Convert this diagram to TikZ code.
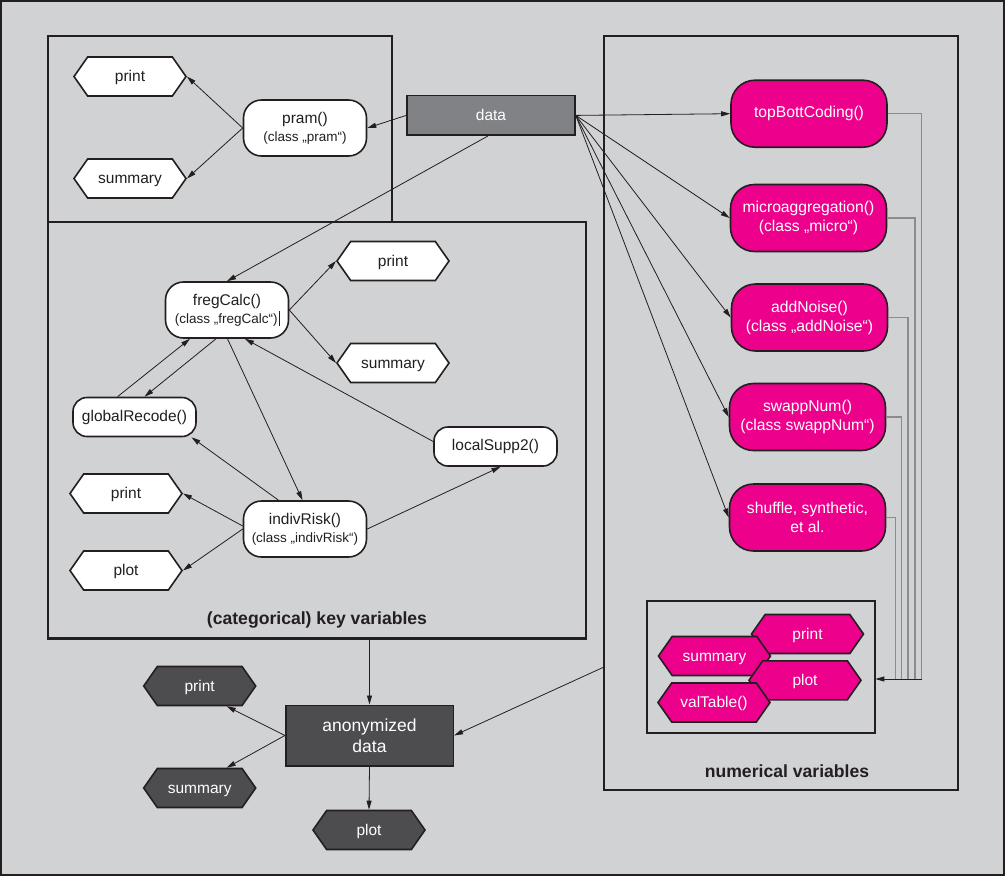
\documentclass[tikz,border=0pt]{standalone}
\usepackage{fontspec}
\setmainfont{Liberation Sans}
\usetikzlibrary{shapes.symbols,arrows.meta,calc}
\definecolor{bgc}{HTML}{D1D2D4}
\definecolor{frc}{HTML}{231F20}
\definecolor{pinkc}{HTML}{EC008C}
\definecolor{darkc}{HTML}{4D4D4F}
\definecolor{datac}{HTML}{808285}
\definecolor{linec}{HTML}{8C8C8C}
\newcommand{\clsfont}{\fontsize{13.5}{16}\selectfont}
\begin{document}
\begin{tikzpicture}[x=1pt,y=-1pt,
  every node/.style={text=frc},
  boxframe/.style={draw=frc, line width=2.2pt, inner sep=0pt, outer sep=0pt},
  wnode/.style={draw=frc, line width=1.6pt, fill=white, rounded corners=18pt, align=center, inner sep=0pt, minimum width=123pt, minimum height=56pt, font=\fontsize{15.5}{18}\selectfont},
  wsmall/.style={wnode, minimum height=39pt, rounded corners=14pt},
  pnode/.style={wnode, fill=pinkc, text=white, minimum width=156pt, minimum height=67pt, rounded corners=24pt, font=\fontsize{15.7}{19}\selectfont},
  hexw/.style={signal, signal to=east and west, signal pointer angle=110, draw=frc, line width=1.6pt, fill=white, minimum width=112pt, minimum height=39pt, inner sep=0pt, text height=12pt, text depth=2pt, font=\fontsize{15.5}{18}\selectfont},
  hexp/.style={hexw, fill=pinkc, text=white},
  hexd/.style={hexw, fill=darkc, text=white},
  sqnode/.style={draw=frc, line width=1.6pt, text=white, align=center, inner sep=0pt},
  title/.style={font=\bfseries\fontsize{17.6}{20}\selectfont, text=frc},
  conn/.style={draw=frc, line width=0.8pt, -{Triangle[length=9pt,width=5pt]}},
  coll/.style={draw=linec, line width=1.1pt}
]
\useasboundingbox (0,0) rectangle (1005,876);
\fill[bgc] (0,0) rectangle (1005,876);
\draw[frc, line width=2pt] (1,1) rectangle (1004,875);

% frames
\node[boxframe, minimum width=344pt, minimum height=186pt] (pbox) at (220,129) {};
\node[boxframe, minimum width=538pt, minimum height=416.5pt] (kbox) at (317,430.25) {};
\node[boxframe, minimum width=354pt, minimum height=754pt] (nbox) at (781,413) {};
\node[boxframe, minimum width=228.6pt, minimum height=132.6pt] (ibox) at (761,667) {};

% data
\node[sqnode, fill=datac, minimum width=168pt, minimum height=39.5pt, font=\fontsize{15.5}{18}\selectfont] (data) at (491,115.4) {data};

% pram box
\node[wnode] (pram) at (305,128) {pram()\\{\clsfont (class „pram“)}};
\node[hexw] (pp) at (130,76.5) {print};
\node[hexw] (ps) at (130,178.5) {summary};

% key variables
\node[wnode] (freg) at (227,310) {fregCalc()\\{\clsfont (class „fregCalc“)\kern1pt\rule[-3pt]{0.7pt}{15pt}}};
\node[hexw] (fp) at (393,261) {print};
\node[hexw] (fs) at (393,363) {summary};
\node[wsmall] (gr) at (134.5,417) {globalRecode()};
\node[wsmall] (ls) at (495.5,446.5) {localSupp2()};
\node[hexw] (ip) at (126,493.5) {print};
\node[hexw] (ipl) at (126,570.5) {plot};
\node[wnode] (ir) at (305,529) {indivRisk()\\{\clsfont (class „indivRisk“)}};
\node[title] (klabel) at (317,620) {(categorical) key variables};

% numerical
\node[pnode] (tb) at (809,113.7) {topBottCoding()};
\node[pnode] (mi) at (808.5,218) {microaggregation()\\(class „micro“)};
\node[pnode] (an) at (809.5,317.5) {addNoise()\\(class „addNoise“)};
\node[pnode] (sw) at (807.5,417) {swappNum()\\(class swappNum“)};
\node[pnode] (sh) at (807.5,517.5) {shuffle, synthetic,\\et al.};
\node[hexp] (np) at (807.5,634) {print};
\node[hexp] (ns) at (714.5,656) {summary};
\node[hexp] (npl) at (805,680.3) {plot};
\node[hexp] (nv) at (714,702.5) {valTable()};
\node[title] (nlabel) at (787,771) {numerical variables};

% anonymized
\node[sqnode, fill=darkc, minimum width=167.6pt, minimum height=60.4pt, font=\fontsize{17.5}{21}\selectfont] (anon) at (369.5,735.5) {anonymized\\data};
\node[hexd] (dp) at (199.7,686) {print};
\node[hexd] (ds) at (199.7,788) {summary};
\node[hexd] (dpl) at (369,830) {plot};

% connectors: pram
\draw[conn] (data.west) -- (pram.east);
\draw[conn] (pram.west) -- (pp.east);
\draw[conn] (pram.west) -- (ps.east);

% connectors: key variables
\draw[conn] ([xshift=-3pt]data.south) -- (freg.north);
\draw[conn] (freg.east) -- (fp.west);
\draw[conn] (freg.east) -- (fs.west);
\draw[conn] ([xshift=-17pt]gr.north) -- ([xshift=-37pt]freg.south);
\draw[conn] ([xshift=-11pt]freg.south) -- ([xshift=10pt]gr.north);
\draw[conn] ([xshift=0.5pt]freg.south) -- ([xshift=-2.5pt]ir.north);
\draw[conn] ([yshift=5pt]ls.west) -- ([xshift=18pt]freg.south);
\draw[conn] ([xshift=-26.5pt]ir.north) -- ([xshift=57pt]gr.south);
\draw[conn] ([yshift=3pt]ir.west) -- (ip.east);
\draw[conn] (ir.west) -- (ipl.east);
\draw[conn] (ir.east) -- ([xshift=5pt]ls.south);

% connectors: numerical
\draw[conn] (data.east) -- (tb.west);
\draw[conn] (data.east) -- (mi.west);
\draw[conn] (data.east) -- (an.west);
\draw[conn] (data.east) -- (sw.west);
\draw[conn] (data.east) -- (sh.west);
\coordinate (c1) at (921.7,679);
\coordinate (c2) at (915,679);
\coordinate (c3) at (908,679);
\coordinate (c4) at (901.7,679);
\coordinate (c5) at (895.7,679);
\draw[coll] (tb.east) -| (c1);
\draw[coll] (mi.east) -| (c2);
\draw[coll] (an.east) -| (c3);
\draw[coll] (sw.east) -| (c4);
\draw[coll] (sh.east) -| (c5);
\draw[conn] (c1) -- (ibox.east |- c1);

% connectors: anonymized
\draw[conn] (anon.north |- kbox.south) -- (anon.north);
\draw[conn] ([yshift=-254pt]nbox.west) -- (anon.east);
\draw[conn] (anon.west) -- ([xshift=27pt]dp.south);
\draw[conn] (anon.west) -- ([xshift=27pt]ds.north);
\draw[conn] (anon.south) -- (dpl.north);
\end{tikzpicture}
\end{document}
